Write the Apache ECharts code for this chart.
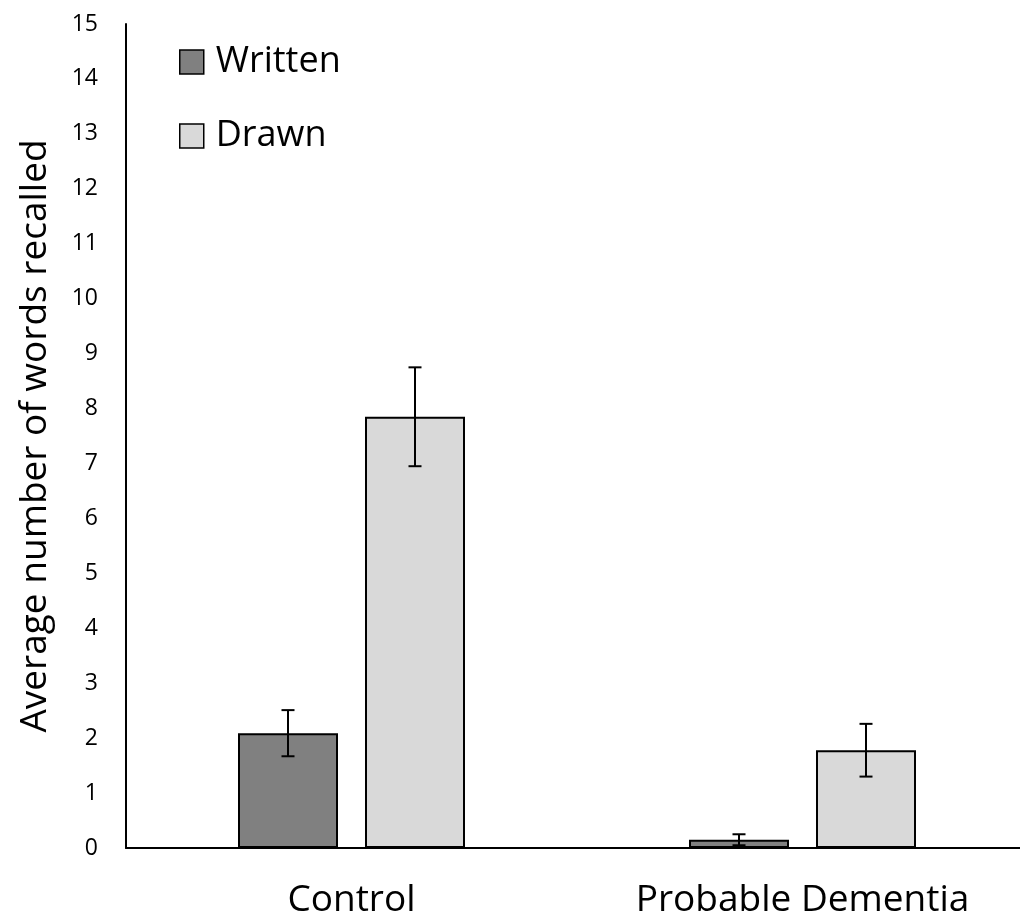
<!DOCTYPE html>
<html>
<head>
<meta charset="utf-8">
<script src="https://cdn.jsdelivr.net/npm/echarts@6/dist/echarts.min.js"></script>
<style>html,body{margin:0;padding:0;background:#fff;overflow:hidden;width:1020px;height:924px;}#c{width:1028px;height:924px;}</style>
</head>
<body>
<div id="c"></div>
<script>
const categories = ['Control', 'Probable Dementia'];
const writtenValues = [2.09, 0.15];
const writtenErrors = [0.42, 0.10];
const drawnValues = [7.85, 1.78];
const drawnErrors = [0.90, 0.48];
const yTicks = { min: 0, max: 15, interval: 1 };

const FONT = '"Open Sans", "Liberation Sans", sans-serif';
const BAR_W = 100;
const GAP = 27;
const OFF = (BAR_W + GAP) / 2;

function errData(vals, errs) {
  return vals.map((v, i) => [i, v - errs[i], v + errs[i]]);
}
function errSeries(vals, errs, offset) {
  return {
    type: 'custom',
    data: errData(vals, errs),
    z: 10,
    silent: true,
    renderItem: function (params, api) {
      const lo = api.coord([api.value(0), api.value(1)]);
      const hi = api.coord([api.value(0), api.value(2)]);
      const x = lo[0] + offset;
      const cap = 6.5;
      const style = { stroke: '#000', lineWidth: 2 };
      return {
        type: 'group',
        children: [
          { type: 'line', shape: { x1: x, y1: lo[1], x2: x, y2: hi[1] }, style: style },
          { type: 'line', shape: { x1: x - cap, y1: lo[1], x2: x + cap, y2: lo[1] }, style: style },
          { type: 'line', shape: { x1: x - cap, y1: hi[1], x2: x + cap, y2: hi[1] }, style: style }
        ]
      };
    }
  };
}

const chart = echarts.init(document.getElementById('c'), null, { renderer: 'canvas' });
chart.setOption({
  backgroundColor: '#fff',
  animation: false,
  textStyle: { fontFamily: FONT },
  grid: { left: 126, top: 24, right: 0, bottom: 76, containLabel: false },
  legend: {
    orient: 'vertical',
    left: 179,
    top: 44,
    padding: 0,
    itemWidth: 24,
    itemHeight: 24,
    itemGap: 38,
    icon: 'rect',
    itemStyle: { borderColor: '#000', borderWidth: 1.5 },
    data: ['Written', 'Drawn'],
    textStyle: { fontSize: 36, color: '#000', fontFamily: FONT, padding: [0, 0, 0, 7] }
  },
  xAxis: {
    type: 'category',
    data: categories,
    axisLine: { lineStyle: { color: '#000', width: 2 } },
    axisTick: { show: false },
    axisLabel: { fontSize: 37, color: '#000', margin: 34, fontFamily: FONT }
  },
  yAxis: {
    type: 'value',
    min: yTicks.min,
    max: yTicks.max,
    interval: yTicks.interval,
    name: 'Average number of words recalled',
    nameLocation: 'middle',
    nameGap: 72,
    nameTextStyle: { fontSize: 37, color: '#000', fontFamily: FONT },
    axisLine: { show: true, lineStyle: { color: '#000', width: 2 } },
    axisTick: { show: false },
    splitLine: { show: false },
    axisLabel: { fontSize: 23, color: '#000', margin: 28, fontFamily: FONT }
  },
  series: [
    {
      name: 'Written',
      type: 'bar',
      data: writtenValues,
      barWidth: BAR_W,
      barGap: (GAP / BAR_W * 100).toFixed(1) + '%',
      itemStyle: { color: '#808080', borderColor: '#000', borderWidth: 2 }
    },
    {
      name: 'Drawn',
      type: 'bar',
      data: drawnValues,
      barWidth: BAR_W,
      itemStyle: { color: '#d9d9d9', borderColor: '#000', borderWidth: 2 }
    },
    errSeries(writtenValues, writtenErrors, -OFF),
    errSeries(drawnValues, drawnErrors, OFF)
  ]
});
</script>
</body>
</html>
